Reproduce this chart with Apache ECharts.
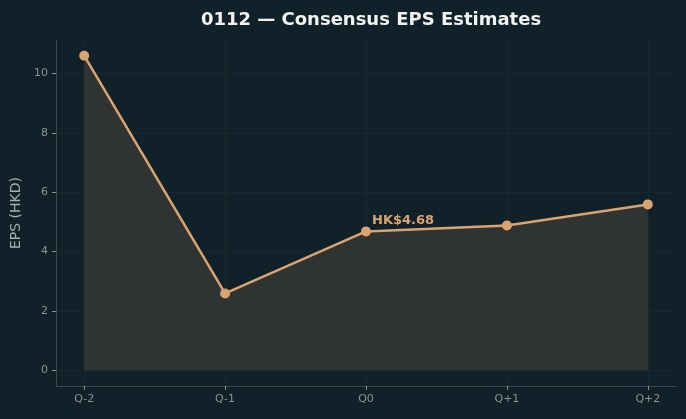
<!DOCTYPE html>
<html>
<head>
<meta charset="utf-8">
<script src="https://cdn.jsdelivr.net/npm/echarts@6/dist/echarts.min.js"></script>
<style>
  html, body { margin: 0; padding: 0; background: #10212a; }
  #chart { width: 686px; height: 419px; }
</style>
</head>
<body>
<div id="chart"></div>
<script>
const quarters = ["Q-2", "Q-1", "Q0", "Q+1", "Q+2"];
const epsValues = [10.6, 2.59, 4.68, 4.88, 5.59];
const xTicks = [0, 1, 2, 3, 4];
const yTicks = [0, 2, 4, 6, 8, 10];
const noteIndex = 2;
const noteText = "HK$4.68";

const lineColor = "#d9a46f";
const gridColor = "#17282f";
const chart = echarts.init(document.getElementById("chart"));

const points = epsValues.map(function (v, i) {
  const item = { value: [i, v] };
  if (i === noteIndex) {
    item.label = {
      show: true,
      formatter: noteText,
      position: [11, -12],
      color: lineColor,
      fontWeight: "bold",
      fontSize: 13,
      fontFamily: "DejaVu Sans"
    };
  }
  return item;
});

chart.setOption({
  backgroundColor: "#10212a",
  animation: false,
  title: {
    text: "0112 — Consensus EPS Estimates",
    left: 366,
    textAlign: "center",
    top: 6,
    textStyle: { color: "#f2f2ee", fontSize: 18, fontWeight: "bold", fontFamily: "DejaVu Sans" }
  },
  grid: { left: 56, right: 10, top: 40, bottom: 33, containLabel: false },
  xAxis: {
    type: "value",
    min: -0.2,
    max: 4.2,
    axisLine: { show: true, onZero: false, lineStyle: { color: "#3d4a4e", width: 1 } },
    axisTick: { show: true, length: 4, customValues: xTicks, lineStyle: { color: "#8a9294" } },
    axisLabel: {
      color: "#8a9294", fontSize: 11, fontFamily: "DejaVu Sans", margin: 8,
      customValues: xTicks,
      formatter: function (v) { return quarters[Math.round(v)] || ""; }
    },
    splitLine: { show: false }
  },
  yAxis: {
    type: "value",
    min: -0.53,
    max: 11.13,
    name: "EPS (HKD)",
    nameLocation: "middle",
    nameGap: 33,
    nameTextStyle: { color: "#a8aeae", fontSize: 14, fontFamily: "DejaVu Sans" },
    axisLine: { show: true, onZero: false, lineStyle: { color: "#3d4a4e", width: 1 } },
    axisTick: { show: true, length: 4, customValues: yTicks, lineStyle: { color: "#8a9294" } },
    axisLabel: {
      color: "#8a9294", fontSize: 11, fontFamily: "DejaVu Sans", margin: 8,
      customValues: yTicks
    },
    splitLine: { show: false }
  },
  series: [
    {
      // faint grid, placed through the axes
      type: "line",
      data: [],
      silent: true,
      z: 0,
      markLine: {
        silent: true,
        z: 0,
        symbol: "none",
        label: { show: false },
        lineStyle: { color: gridColor, width: 1, type: "solid" },
        data: xTicks.map(function (t) { return { xAxis: t }; })
          .concat(yTicks.map(function (t) { return { yAxis: t }; }))
      }
    },
    {
      type: "line",
      data: points,
      symbol: "circle",
      symbolSize: 10,
      itemStyle: { color: lineColor },
      lineStyle: { color: lineColor, width: 2.5 },
      areaStyle: { color: "#2f3433", opacity: 1, origin: 0 },
      z: 3
    }
  ]
});
</script>
</body>
</html>
